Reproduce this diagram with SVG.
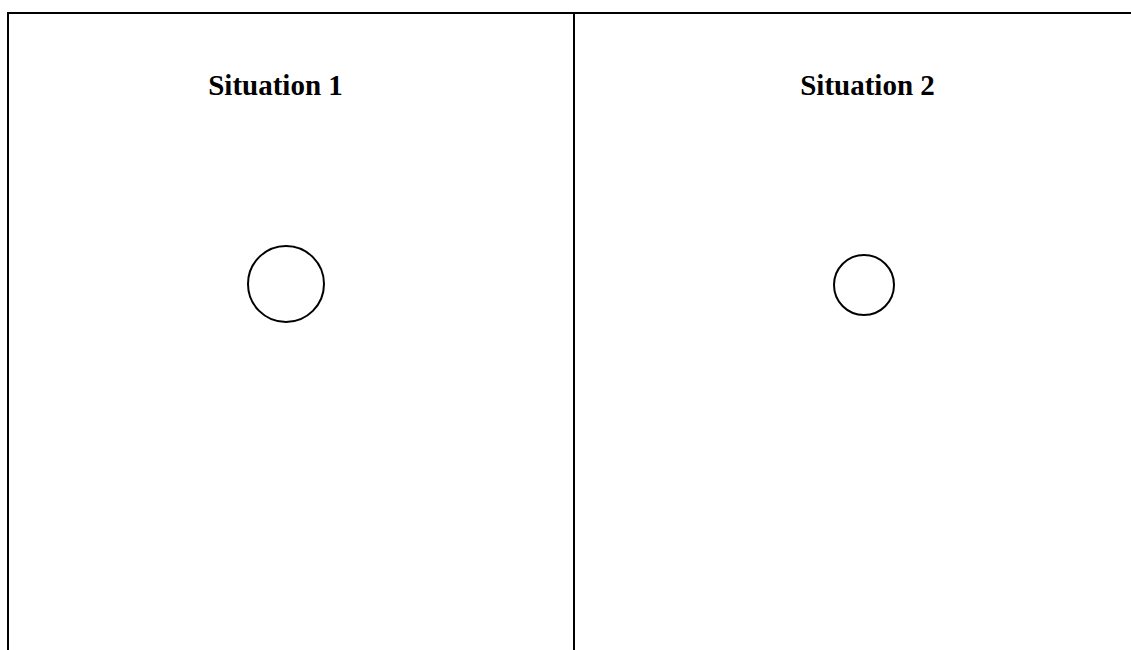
<svg xmlns="http://www.w3.org/2000/svg" width="1131" height="650" viewBox="0 0 1131 650">
<style>
.frame{fill:none;stroke:#000;stroke-width:2}
.node{fill:#fff;stroke:#000;stroke-width:2}
.title{font-family:"Liberation Serif","Times New Roman",serif;font-weight:bold;font-size:29px;fill:#000;text-anchor:middle}
</style>
<rect width="1131" height="650" fill="#fff"/>
<g id="frame">
<rect class="frame" x="8" y="13" width="1140" height="700"/>
<line class="frame" x1="574" y1="13" x2="574" y2="660"/>
</g>
<g id="situation1">
<text class="title" x="275.5" y="95">Situation 1</text>
</g>
<g id="situation2">
<text class="title" x="867.5" y="95">Situation 2</text>
</g>
<g id="circle1">
<circle class="node" cx="286" cy="284" r="38"/>
</g>
<g id="circle2">
<circle class="node" cx="864" cy="285" r="30"/>
</g>
<g id="connectors"></g>
</svg>
